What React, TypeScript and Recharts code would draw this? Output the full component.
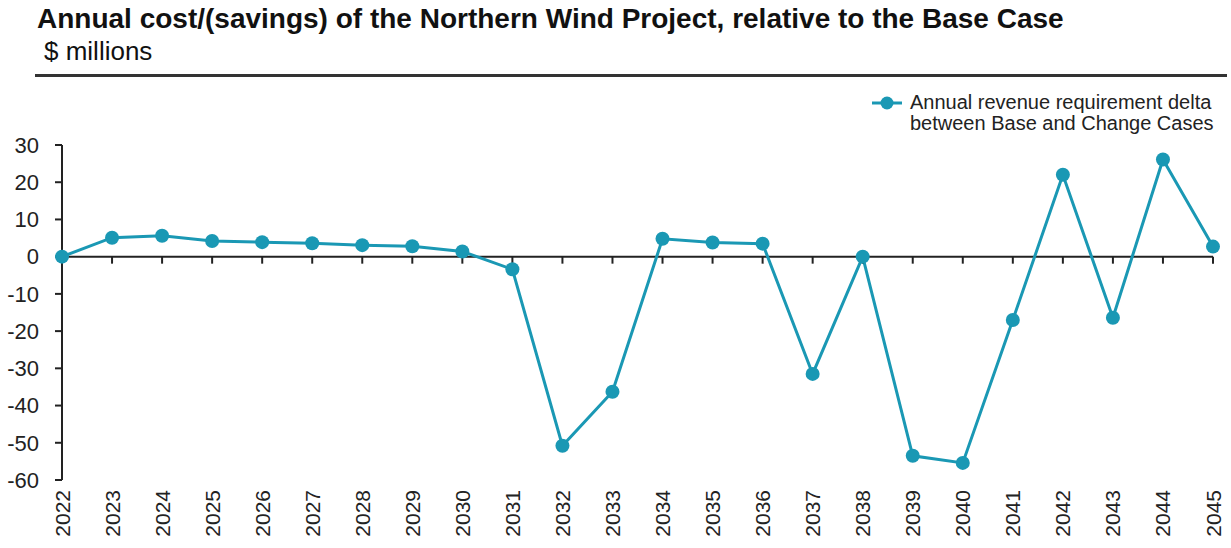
import React from 'react';
import { LineChart, Line, XAxis, YAxis, ReferenceLine, ReferenceDot, Legend } from 'recharts';

const years = [2022, 2023, 2024, 2025, 2026, 2027, 2028, 2029, 2030, 2031, 2032, 2033, 2034, 2035, 2036, 2037, 2038, 2039, 2040, 2041, 2042, 2043, 2044, 2045];
const deltas = [0, 5.1, 5.6, 4.2, 3.9, 3.6, 3.1, 2.8, 1.4, -3.4, -50.8, -36.3, 4.8, 3.8, 3.5, -31.5, 0, -53.5, -55.4, -17, 22, -16.4, 26.1, 2.7];
const yTicks = [-60, -50, -40, -30, -20, -10, 0, 10, 20, 30];
const seriesName = ['Annual revenue requirement delta', 'between Base and Change Cases'];

const data = years.map((year, i) => ({ year, value: deltas[i] }));

const COLOR = '#1a98b4';
const TEXT = '#222222';
const FONT = '"Liberation Sans", Arial, sans-serif';

const XTick = (props: any) => {
  const { x, y, payload } = props;
  return (
    <g transform={`translate(${x},${y + 10}) rotate(-90)`}>
      <text x={0} y={0} textAnchor="end" dominantBaseline="central" fill={TEXT} fontSize={21} fontFamily={FONT}>
        {payload.value}
      </text>
    </g>
  );
};

const TickMark = (props: any) => {
  const { cx, cy } = props;
  return <line x1={cx} x2={cx} y1={cy} y2={cy + 7} stroke="#222" strokeWidth={2} />;
};

const LegendContent = () => (
  <div style={{ display: 'flex', alignItems: 'flex-start', fontFamily: FONT, fontSize: 20, color: TEXT, lineHeight: '21px', height: 42 }}>
    <svg width={44} height={21} style={{ display: 'block' }}>
      <line x1={6} x2={36} y1={11} y2={11} stroke={COLOR} strokeWidth={3} />
      <circle cx={21} cy={11} r={6.5} fill={COLOR} />
    </svg>
    <div style={{ whiteSpace: 'nowrap' }}>
      <div>{seriesName[0]}</div>
      <div>{seriesName[1]}</div>
    </div>
  </div>
);

export default function App() {
  return (
    <div style={{ position: 'absolute', left: 0, top: 0, width: 1231, height: 548, background: '#fff' }}>
      <div style={{ position: 'absolute', left: 37, top: 5, fontFamily: FONT, fontWeight: 'bold', fontSize: 28, lineHeight: '28px', color: '#111', whiteSpace: 'nowrap' }}>
        Annual cost/(savings) of the Northern Wind Project, relative to the Base Case
      </div>
      <div style={{ position: 'absolute', left: 44, top: 38, fontFamily: FONT, fontSize: 26, lineHeight: '26px', color: '#111', whiteSpace: 'nowrap' }}>
        $ millions
      </div>
      <div style={{ position: 'absolute', left: 35, top: 74, width: 1192, height: 3, background: '#333' }} />
      <LineChart width={1231} height={548} data={data} margin={{ top: 103, right: 18, bottom: 0, left: 12 }}>
        <XAxis
          dataKey="year"
          type="number"
          domain={[2022, 2045]}
          ticks={years}
          interval={0}
          height={68}
          axisLine={false}
          tickLine={false}
          tickSize={0}
          tickMargin={0}
          tick={<XTick />}
        />
        <YAxis
          type="number"
          domain={[-60, 30]}
          ticks={yTicks}
          interval={0}
          width={50}
          axisLine={{ stroke: '#222', strokeWidth: 2 }}
          tickLine={{ stroke: '#222', strokeWidth: 2 }}
          tickSize={7}
          tickMargin={16}
          tick={{ fill: TEXT, fontSize: 22, fontFamily: FONT }}
        />
        <ReferenceLine y={0} stroke="#222" strokeWidth={2} />
        {years.map((yr) => (
          <ReferenceDot key={yr} x={yr} y={0} r={0} shape={<TickMark />} ifOverflow="visible" />
        ))}
        <Legend
          verticalAlign="top"
          align="right"
          content={<LegendContent />}
          wrapperStyle={{ position: 'absolute', top: 92, left: 866, width: 360, height: 42 }}
        />
        <Line
          type="linear"
          dataKey="value"
          name={seriesName.join(' ')}
          stroke={COLOR}
          strokeWidth={3}
          dot={{ r: 7, fill: COLOR, stroke: COLOR, strokeWidth: 0 }}
          activeDot={false}
          isAnimationActive={false}
        />
      </LineChart>
    </div>
  );
}
